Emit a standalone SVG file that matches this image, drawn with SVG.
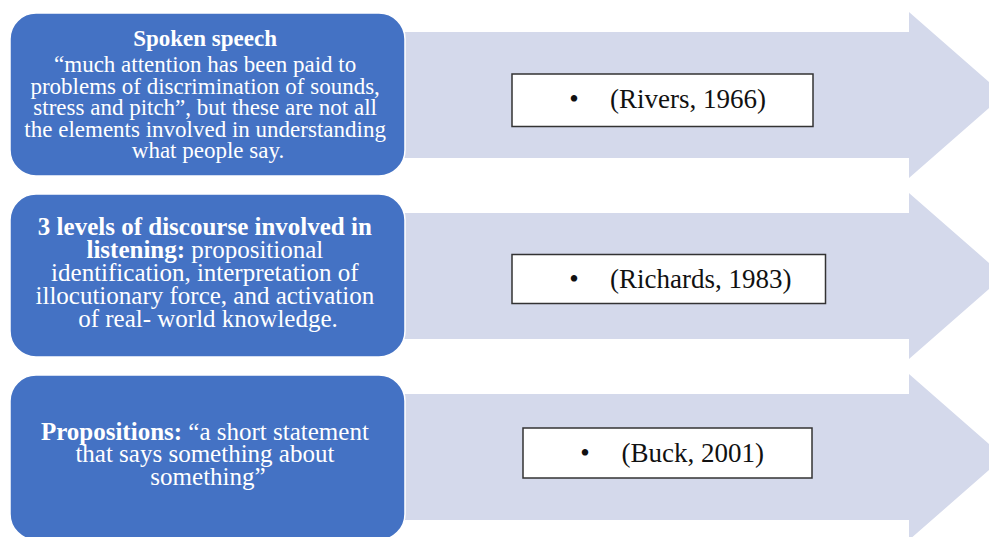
<svg xmlns="http://www.w3.org/2000/svg" width="989" height="537" viewBox="0 0 989 537">
<style>
.arrow{fill:#D4D9EB}
.box{fill:#4472C4;stroke:#FFFFFF;stroke-width:1.5}
.cite{fill:#FFFFFF;stroke:#333333;stroke-width:1.5}
.t{font-family:"Liberation Serif","Times New Roman",serif;fill:#FFFFFF;text-anchor:middle}
.b{font-weight:bold}
.c{font-family:"Liberation Serif","Times New Roman",serif;fill:#111111;font-size:27px}
</style>
<rect width="989" height="537" fill="#FFFFFF"/>
<g id="connectors">
<polygon class="arrow" points="390,32 909,32 909,12 1004,95 909,178 909,158 390,158"/>
<polygon class="arrow" points="390,213 909,213 909,193 1004,276 909,359 909,339 390,339"/>
<polygon class="arrow" points="390,394 909,394 909,374 1004,457 909,540 909,520 390,520"/>
</g>
<g id="node1">
<rect class="box" x="10" y="13" width="395" height="163" rx="26"/>
<text class="t" font-size="23">
<tspan class="b" x="208" y="46">Spoken speech</tspan>
<tspan x="208" y="72">“much attention has been paid to</tspan>
<tspan x="208" y="93.5">problems of discrimination of sounds,</tspan>
<tspan x="208" y="115">stress and pitch”, but these are not all</tspan>
<tspan x="208" y="136.5">the elements involved in understanding</tspan>
<tspan x="208" y="158">what people say.</tspan>
</text>
</g>
<g id="node2">
<rect class="box" x="10" y="194" width="395" height="163" rx="26"/>
<text class="t" font-size="25">
<tspan class="b" x="208" y="235">3 levels of discourse involved in</tspan>
<tspan x="208" y="258"><tspan class="b">listening:</tspan> propositional</tspan>
<tspan x="208" y="281">identification, interpretation of</tspan>
<tspan x="208" y="304">illocutionary force, and activation</tspan>
<tspan x="208" y="327">of real- world knowledge.</tspan>
</text>
</g>
<g id="node3">
<rect class="box" x="10" y="375" width="395" height="165" rx="26"/>
<text class="t" font-size="25">
<tspan x="208" y="440"><tspan class="b">Propositions:</tspan> “a short statement</tspan>
<tspan x="208" y="462">that says something about</tspan>
<tspan x="208" y="485">something”</tspan>
</text>
</g>
<g id="cite1">
<rect class="cite" x="512" y="74" width="301" height="52.5"/>
<text class="c" x="574" y="108" text-anchor="middle">•</text>
<text class="c" x="610" y="108">(Rivers, 1966)</text>
</g>
<g id="cite2">
<rect class="cite" x="512" y="254.5" width="313.5" height="49"/>
<text class="c" x="574" y="288" text-anchor="middle">•</text>
<text class="c" x="610" y="288">(Richards, 1983)</text>
</g>
<g id="cite3">
<rect class="cite" x="523" y="428" width="289" height="50"/>
<text class="c" x="585" y="462" text-anchor="middle">•</text>
<text class="c" x="621.5" y="462">(Buck, 2001)</text>
</g>
</svg>
